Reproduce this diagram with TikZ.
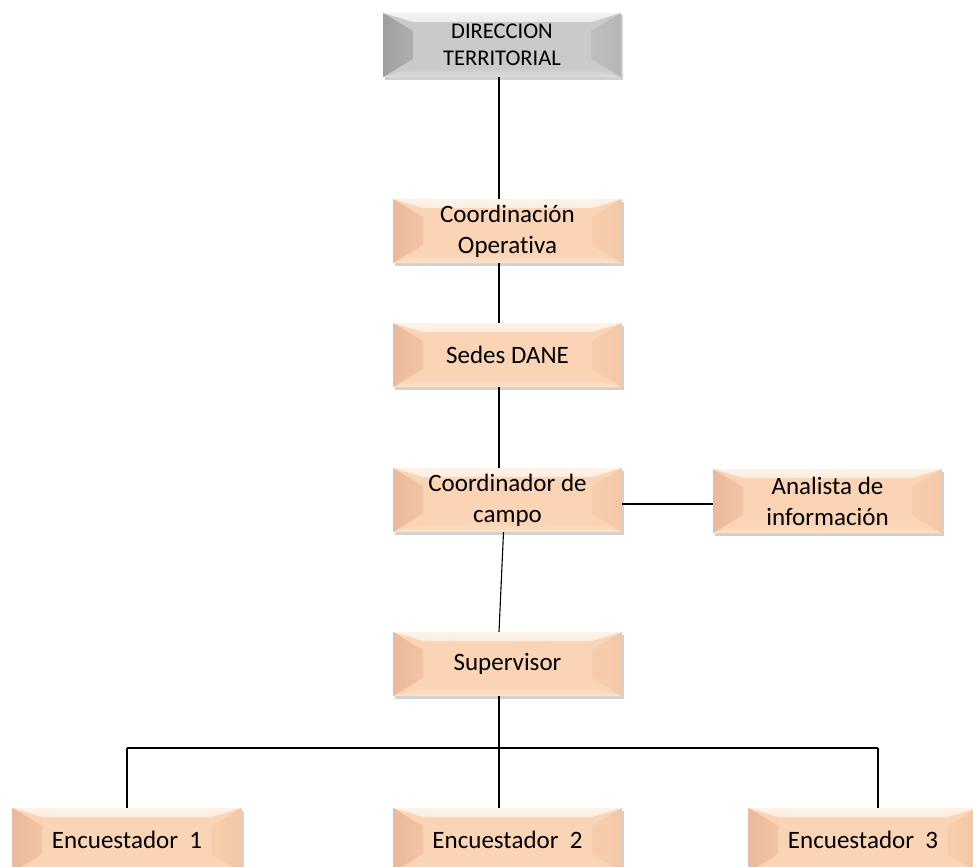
\documentclass[tikz,border=0pt]{standalone}
\usepackage{fontspec}
\setmainfont{Carlito}[Ligatures=NoCommon]
\usetikzlibrary{shadows,calc}
\definecolor{pmain}{RGB}{250,212,180}
\definecolor{ptop}{RGB}{254,242,232}
\definecolor{pleft}{RGB}{234,186,154}
\definecolor{pright}{RGB}{244,200,166}
\definecolor{pbot}{RGB}{252,226,204}
\definecolor{gmain}{RGB}{202,202,202}
\definecolor{gtop}{RGB}{242,242,242}
\definecolor{gleft}{RGB}{158,158,158}
\definecolor{gright}{RGB}{182,182,182}
\definecolor{gbot}{RGB}{220,220,220}
\tikzset{
  bevel/.style n args={5}{
    fill=#1, draw=none, inner sep=0pt, align=center,
    minimum height=64bp,
    drop shadow={shadow xshift=2bp, shadow yshift=-2.5bp, opacity=0.3, fill=black!60},
    path picture={
      \shade[top color=#2, bottom color=#1] (path picture bounding box.north west) -- (path picture bounding box.north east)
        -- ([xshift=-30bp,yshift=-9bp]path picture bounding box.north east)
        -- ([xshift=30bp,yshift=-9bp]path picture bounding box.north west) -- cycle;
      \shade[top color=#1, bottom color=#5] (path picture bounding box.south west) -- (path picture bounding box.south east)
        -- ([xshift=-30bp,yshift=9bp]path picture bounding box.south east)
        -- ([xshift=30bp,yshift=9bp]path picture bounding box.south west) -- cycle;
      \shade[left color=#3, right color=#3!60!#1] (path picture bounding box.north west)
        -- ([xshift=30bp,yshift=-18bp]path picture bounding box.north west)
        -- ([xshift=30bp,yshift=18bp]path picture bounding box.south west)
        -- (path picture bounding box.south west) -- cycle;
      \shade[left color=#4!60!#1, right color=#4] (path picture bounding box.north east)
        -- ([xshift=-30bp,yshift=-18bp]path picture bounding box.north east)
        -- ([xshift=-30bp,yshift=18bp]path picture bounding box.south east)
        -- (path picture bounding box.south east) -- cycle;
    }
  },
  peachbox/.style={bevel={pmain}{ptop}{pleft}{pright}{pbot},
    minimum width=229bp, font=\fontsize{25bp}{31bp}\selectfont},
  graybox/.style={bevel={gmain}{gtop}{gleft}{gright}{gbot},
    minimum width=238bp, font=\fontsize{22.5bp}{27bp}\selectfont},
  conn/.style={draw=black, line width=1.1bp}
}
\begin{document}
\begin{tikzpicture}[x=1bp,y=-1bp]
\useasboundingbox (0,0) rectangle (973,867);
\node[graybox]  (dir)    at (502,45)    {DIRECCION\\TERRITORIAL};
\node[peachbox] (coord)  at (507.5,231) {Coordinación\\Operativa};
\node[peachbox] (sedes)  at (507.5,355) {Sedes DANE};
\node[peachbox] (campo)  at (507.5,500) {Coordinador de\\campo};
\node[peachbox] (anal)   at (827.5,501) {Analista de\\información};
\node[peachbox] (sup)    at (507.5,664) {Supervisor};
\node[peachbox] (enc1)   at (127,840)   {Encuestador~~1};
\node[peachbox] (enc2)   at (507.5,840) {Encuestador~~2};
\node[peachbox] (enc3)   at (863,840)   {Encuestador~~3};
\coordinate (tx) at (499,0);
\coordinate (bar) at (0,748);
\coordinate (x1) at (127,0);
\coordinate (x3) at (878,0);
\draw[conn] (tx |- dir.south) -- (tx |- coord.north);
\draw[conn] (tx |- coord.south) -- (tx |- sedes.north);
\draw[conn] (tx |- sedes.south) -- (tx |- campo.north);
\draw[conn] ([xshift=-4bp]campo.south) -- (tx |- sup.north);
\draw[conn] (campo.east |- 0,504) -- (anal.west |- 0,504);
\draw[conn] (tx |- sup.south) -- (tx |- enc2.north);
\draw[conn] (x1 |- bar) -- (x3 |- bar);
\draw[conn] (x1 |- bar) -- (x1 |- enc1.north);
\draw[conn] (x3 |- bar) -- (x3 |- enc3.north);
\end{tikzpicture}
\end{document}
